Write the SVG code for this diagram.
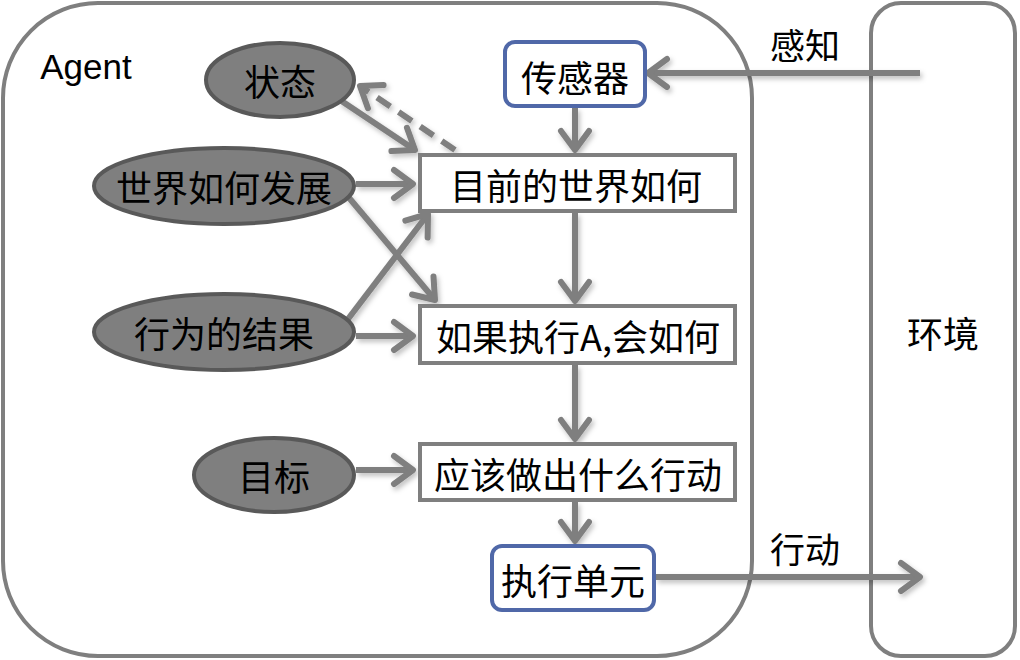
<svg xmlns="http://www.w3.org/2000/svg" width="1020" height="660" viewBox="0 0 1020 660">
<style>
.frame{fill:#fff;stroke:#7f7f7f;stroke-width:4}
.ell{fill:#7f7f7f;stroke:#595959;stroke-width:4}
.box{fill:#fff;stroke:#7f7f7f;stroke-width:4}
.blue{fill:#fff;stroke:#5068a8;stroke-width:4}
.t{font-family:"Noto Sans CJK SC","Liberation Sans",sans-serif;font-size:36px;fill:#000;text-anchor:middle;dominant-baseline:central}
.lbl{font-family:"Noto Sans CJK SC","Liberation Sans",sans-serif;font-size:35px;fill:#000;text-anchor:middle;dominant-baseline:central}
.c{fill:none;stroke:#7f7f7f;stroke-width:6;marker-end:url(#ah)}
.d{stroke-dasharray:16 10}
</style>
<defs>
<marker id="ah" markerUnits="userSpaceOnUse" viewBox="-30 -20 40 40" markerWidth="40" markerHeight="40" refX="0" refY="0" orient="auto">
<path d="M-19,-14 L0,0 L-19,14" fill="none" stroke="#7f7f7f" stroke-width="6" stroke-linecap="round" stroke-linejoin="round"/>
</marker>
<filter id="sh" x="-20%" y="-20%" width="140%" height="140%">
<feDropShadow dx="2" dy="3" stdDeviation="2.5" flood-color="#000" flood-opacity="0.25"/>
</filter>
</defs>
<g id="agent"><rect class="frame" x="3" y="3" width="749" height="653" rx="95"/><text x="86" y="66" font-family="Liberation Sans,Arial,sans-serif" font-size="35" text-anchor="middle" dominant-baseline="central">Agent</text></g>
<g id="env"><rect class="frame" x="871" y="3" width="144" height="653" rx="30"/><text class="t" x="943" y="332">环境</text></g>
<g id="connectors" filter="url(#sh)">
<path class="c" d="M920,73 L648,73"/>
<path class="c" d="M575,108 L575,150"/>
<path class="c" d="M575,213 L575,301"/>
<path class="c" d="M575,365 L575,439"/>
<path class="c" d="M575,502 L575,541"/>
<path class="c" d="M656,577 L920,577"/>
<path class="c" d="M340,100 L415,150"/>
<path class="c d" d="M455,150 L360,86"/>
<path class="c" d="M356,184 L413,184"/>
<path class="c" d="M345,193 L435,300"/>
<path class="c" d="M345,323 L428,214"/>
<path class="c" d="M356,336 L413,336"/>
<path class="c" d="M356,470 L413,470"/>
</g>
<text class="lbl" x="805" y="43">感知</text>
<text class="lbl" x="805" y="547">行动</text>
<g id="n-state"><ellipse class="ell" cx="280" cy="80" rx="74" ry="37"/><text class="t" x="280" y="80">状态</text></g>
<g id="n-world"><ellipse class="ell" cx="224" cy="186" rx="130" ry="38"/><text class="t" x="224" y="186">世界如何发展</text></g>
<g id="n-result"><ellipse class="ell" cx="224" cy="332" rx="130" ry="38"/><text class="t" x="224" y="332">行为的结果</text></g>
<g id="n-goal"><ellipse class="ell" cx="274" cy="475" rx="80" ry="37"/><text class="t" x="274" y="475">目标</text></g>
<g id="n-sensor"><rect class="blue" x="505" y="42" width="140" height="64" rx="10"/><text class="t" x="575" y="76">传感器</text></g>
<g id="n-now"><rect class="box" x="420" y="155" width="315" height="56"/><text class="t" x="576" y="184">目前的世界如何</text></g>
<g id="n-if"><rect class="box" x="420" y="306" width="315" height="57"/><text class="t" x="578" y="335">如果执行A,会如何</text></g>
<g id="n-act"><rect class="box" x="420" y="444" width="315" height="56"/><text class="t" x="578" y="473">应该做出什么行动</text></g>
<g id="n-exec"><rect class="blue" x="492" y="546" width="162" height="64" rx="10"/><text class="t" x="573" y="579">执行单元</text></g>
</svg>
